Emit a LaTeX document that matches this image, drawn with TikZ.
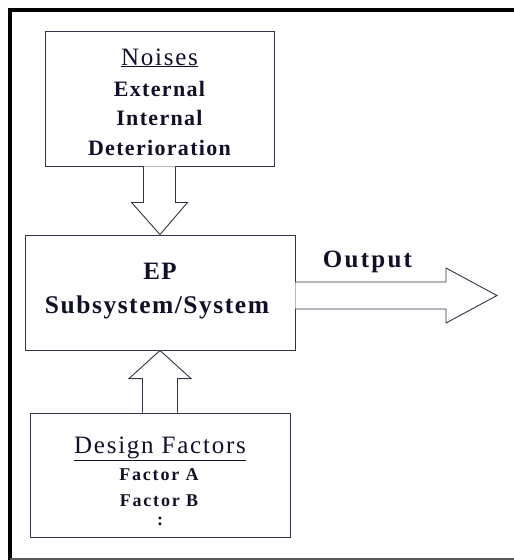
\documentclass[tikz,border=0pt]{standalone}
\usepackage{fontspec}
\setmainfont{Liberation Serif}
\newfontfamily\boldsp[LetterSpace=6]{Liberation Serif Bold}
\newfontfamily\regsp[LetterSpace=7]{Liberation Serif}
\usepackage{tikz}
\usetikzlibrary{calc}

\definecolor{ink}{RGB}{16,16,40}
\definecolor{edge}{RGB}{50,50,72}

\tikzset{
	block/.style={draw=edge, line width=0.9pt, inner sep=0pt},
	fatarrow/.style={draw=edge, line width=0.9pt, fill=white, line join=miter},
	txt/.style={anchor=base, inner sep=0pt, text=ink}
}

\begin{document}
\begin{tikzpicture}[x=1pt, y=-1pt]
				\useasboundingbox (0,0) rectangle (514,560);
				
				% frame
				\draw[line width=4pt] (10.3,8) -- (10.3,560);
				\draw[line width=3.5pt] (8.3,9.8) -- (514,9.8);
				\draw[line width=1.2pt, black!65] (10,559) -- (514,559);
				
				% the three boxes
				\node[block, minimum width=229pt, minimum height=135pt] (noise) at (159.5, 98.5) {};
				\node[block, minimum width=270pt, minimum height=115pt] (ep) at (160, 292.5) {};
				\node[block, minimum width=260pt, minimum height=124pt] (design) at (160, 475) {};
				
				% noise box text
				\node[txt, font=\regsp\fontsize{25}{25}\selectfont] (P) at (159.5, 65) {\underline{Noises}};
				\node[txt, font=\boldsp\fontsize{22}{22}\selectfont] (ext) at (159.5, 96) {External};
				\node[txt, font=\boldsp\fontsize{22}{22}\selectfont] (int) at (159.5, 125) {Internal};
				\node[txt, font=\boldsp\fontsize{22}{22}\selectfont] (det) at (159.5, 155) {Deterioration};
				
				% system box text
				\node[txt, font=\boldsp\fontsize{25}{25}\selectfont] (epname) at (160, 279) {EP};
				\node[txt, font=\boldsp\fontsize{25.5}{25.5}\selectfont] (sys) at (157, 313) {Subsystem/System};
				
				% design box text
				\node[txt, font=\regsp\fontsize{25}{25}\selectfont] (df) at (160, 453) {\underline{Design Factors}};
				\node[txt, font=\boldsp\fontsize{18}{18}\selectfont\addfontfeature{LetterSpace=10}] (fa) at (159, 480) {Factor A};
				\node[txt, font=\boldsp\fontsize{18}{18}\selectfont\addfontfeature{LetterSpace=10}] (fb) at (159, 506) {Factor B};
				\node[txt, font=\boldsp\fontsize{18}{18}\selectfont] (dots) at (160, 525) {:};
				
				% output label
				\node[txt, font=\boldsp\fontsize{25}{25}\selectfont\addfontfeature{LetterSpace=9}] (out) at (367.5, 267) {Output};
				
				% noises into the system
				\draw[fatarrow] ($(noise.south)+(-16,0)$) -- ++(0,36) -- ++(-12,0)
					-- (ep.north) -- ($(noise.south)+(28,36)$) -- ++(-12,0) -- ($(noise.south)+(16,0)$);
				
				% design factors into the system
				\draw[fatarrow] ($(design.north)+(-17.5,0)$) -- ++(0,-34) -- ++(-13.5,0)
					-- (ep.south) -- ($(design.north)+(31,-34)$) -- ++(-13.5,0) -- ($(design.north)+(17.5,0)$);
				
				% output arrow
				\draw[fatarrow] ($(ep.east)+(0,-10.5)$) -- (446,282) -- (446,268) -- (497,295.5)
					-- (446,323) -- (446,309) -- ($(ep.east)+(0,16.5)$);

\end{tikzpicture}
\end{document}
